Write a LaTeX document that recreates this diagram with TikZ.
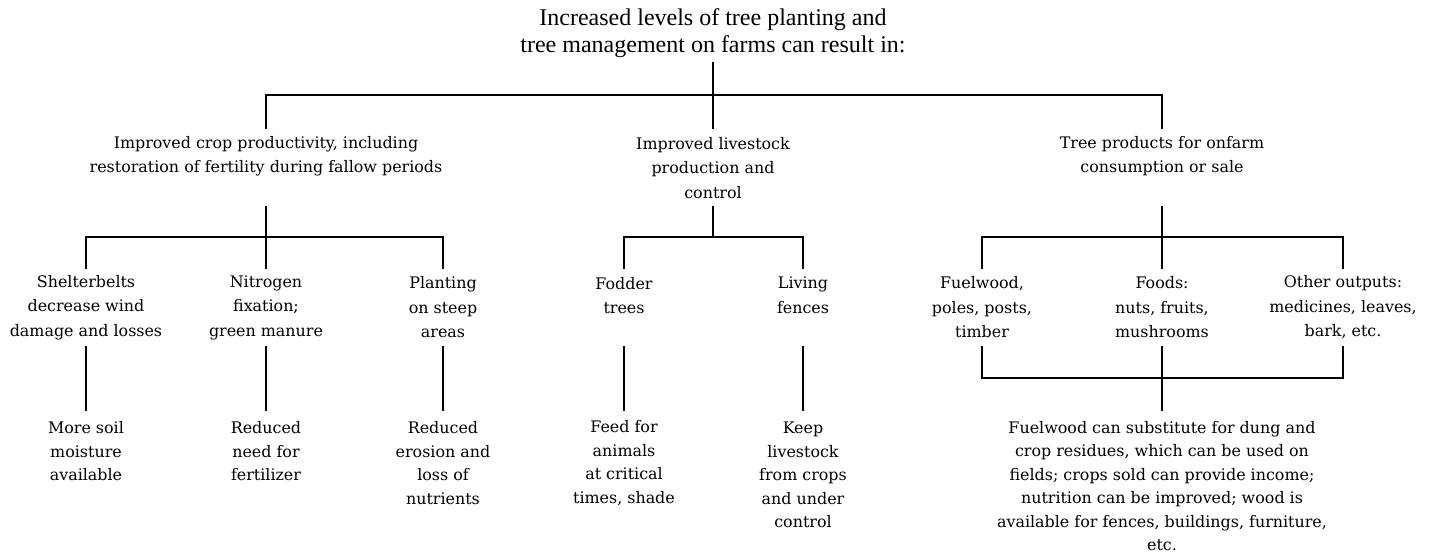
\documentclass[tikz,border=0pt]{standalone}
\usepackage{fontspec}
\setmainfont{DejaVu Serif}
\newfontfamily\titlefont{Liberation Serif}
\begin{document}
\begin{tikzpicture}[x=1pt,y=-1pt,
  every node/.style={inner sep=0pt, align=center},
  body/.style={font=\fontsize{15.9}{24.5}\selectfont},
  leaf/.style={font=\fontsize{15.9}{23.5}\selectfont},
  ttl/.style={font=\titlefont\fontsize{24}{27}\selectfont},
  conn/.style={line width=2.2pt, line cap=rect, line join=miter}]
\useasboundingbox (0,0) rectangle (1430,555);

% title
\node[ttl] (T) at (713,33) {Increased levels of tree planting and\\tree management on farms can result in:};

% level 1
\node[body] (A) at (266,156) {Improved crop productivity, including\\restoration of fertility during fallow periods};
\node[body] (B) at (713,168) {Improved livestock\\production and\\control};
\node[body] (C) at (1162,156) {Tree products for onfarm\\consumption or sale};

% level 2
\node[body] (A1) at (86,307.5) {Shelterbelts\\decrease wind\\damage and losses};
\node[body] (A2) at (266,307.5) {Nitrogen\\fixation;\\green manure};
\node[body] (A3) at (443,307.5) {Planting\\on steep\\areas};
\node[body] (B1) at (624,295.5) {Fodder\\trees};
\node[body] (B2) at (803,295.5) {Living\\fences};
\node[body] (C1) at (982,307.5) {Fuelwood,\\poles, posts,\\timber};
\node[body] (C2) at (1162,307.5) {Foods:\\nuts, fruits,\\mushrooms};
\node[body] (C3) at (1343,307.5) {Other outputs:\\medicines, leaves,\\bark, etc.};

% level 3
\node[leaf] (D1) at (86,451.5) {More soil\\moisture\\available};
\node[leaf] (D2) at (266,451.5) {Reduced\\need for\\fertilizer};
\node[leaf] (D3) at (443,463.25) {Reduced\\erosion and\\loss of\\nutrients};
\node[leaf] (D4) at (624,463.25) {Feed for\\animals\\at critical\\times, shade};
\node[leaf] (D5) at (803,475) {Keep\\livestock\\from crops\\and under\\control};
\node[leaf] (D6) at (1162,486) {Fuelwood can substitute for dung and\\crop residues, which can be used on\\fields; crops sold can provide income;\\nutrition can be improved; wood is\\available for fences, buildings, furniture,\\etc.};

% connectors: title to level 1
\draw[conn] (T |- 0,63) -- (T |- 0,95);
\draw[conn] (A |- 0,95) -- (C |- 0,95);
\foreach \n in {A,B,C} \draw[conn] (\n |- 0,95) -- (\n |- 0,128);

% level 1 to level 2
\foreach \n in {A,B,C} \draw[conn] (\n |- 0,207) -- (\n |- 0,237);
\draw[conn] (A1 |- 0,237) -- (A3 |- 0,237);
\draw[conn] (B1 |- 0,237) -- (B2 |- 0,237);
\draw[conn] (C1 |- 0,237) -- (C3 |- 0,237);
\foreach \n in {A1,A2,A3,B1,B2,C1,C2,C3} \draw[conn] (\n |- 0,237) -- (\n |- 0,268);

% level 2 to level 3
\foreach \n/\m in {A1/D1,A2/D2,A3/D3,B1/D4,B2/D5} \draw[conn] (\n |- 0,347) -- (\m |- 0,410);
\draw[conn] (C1 |- 0,347) -- (C1 |- 0,378) -- (C3 |- 0,378) -- (C3 |- 0,347);
\draw[conn] (C2 |- 0,347) -- (D6 |- 0,410);
\end{tikzpicture}
\end{document}
